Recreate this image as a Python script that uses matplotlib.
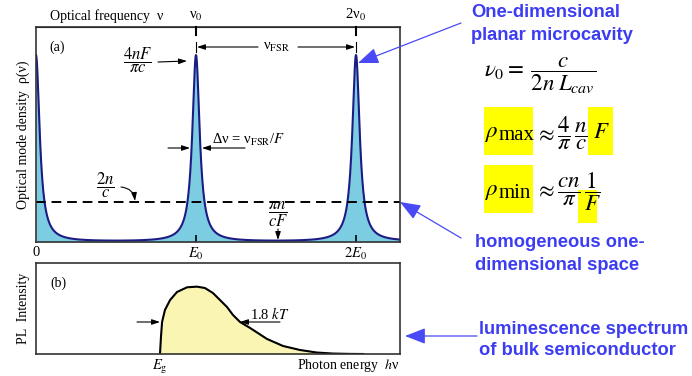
import numpy as np
import matplotlib
matplotlib.use("Agg")
import matplotlib.pyplot as plt
from matplotlib.patches import Rectangle

plt.rcParams['font.family'] = ['Liberation Serif', 'DejaVu Serif']
plt.rcParams['mathtext.fontset'] = 'stix'

# panel (a): mode density of a planar cavity, energy in units of E0
mode_peaks = [0, 1, 2]
mode_labels = ['0', '$E_0$', '$2E_0$']
freq_labels = ['', 'ν$_0$', '2ν$_0$']
finesse = 18.0
peak_density = 1.0
free_space_level = 0.214      # 2n/c
x_max = 2.275

# panel (b): PL spectrum
pl_energy = [0.775, 0.781, 0.788, 0.806, 0.838, 0.881, 0.944, 1.006, 1.056, 1.106,
             1.150, 1.194, 1.231, 1.275, 1.338, 1.444, 1.544, 1.650, 1.756, 1.856,
             1.963, 2.044]
pl_intensity = [0.0, 0.187, 0.352, 0.484, 0.593, 0.681, 0.733, 0.740, 0.725, 0.670,
                0.593, 0.516, 0.429, 0.352, 0.286, 0.165, 0.088, 0.044, 0.016, 0.005,
                0.001, 0.0]
e_gap = 0.775

blue = '#3c3cf2'
W, H = 692, 376
fig = plt.figure(figsize=(W / 100, H / 100), dpi=100)

def box(l, t, r, b):
    return [l / W, 1 - b / H, (r - l) / W, (b - t) / H]

ax_a = fig.add_axes(box(36, 27, 400, 242))
ax_b = fig.add_axes(box(36, 263, 400, 354))

# ---- panel (a)
x = np.linspace(0, x_max, 4000)
rho = peak_density / (1 + (2 * finesse / np.pi) ** 2 * np.sin(np.pi * x) ** 2)
ax_a.fill_between(x, 0, rho, color='#7ccde2', lw=0)
ax_a.plot(x, rho, color='#1c1c85', lw=1.5)
ax_a.axhline(free_space_level, color='black', lw=1.4, dashes=(5, 3))
ax_a.set_xlim(0, x_max)
ax_a.set_ylim(0, 1.15)
ax_a.set_yticks([])
ax_a.set_xticks(mode_peaks)
ax_a.set_xticklabels(mode_labels, fontsize=10.5)
ax_a.tick_params(axis='x', direction='in', length=5, width=1.2, pad=3, top=True)
ax_a.get_xticklines()[0].set_visible(False)
ax_a.get_xticklines()[1].set_visible(False)
top = ax_a.secondary_xaxis('top')
top.set_xticks(mode_peaks)
top.set_xticklabels(freq_labels, fontsize=10.5)
top.tick_params(direction='in', length=0, pad=3)
ax_a.set_ylabel('Optical mode density  ρ(ν)', fontsize=10, labelpad=4)

# ---- panel (b)
ax_b.fill_between(pl_energy, 0, pl_intensity, color='#fbf5b4', lw=0)
ax_b.plot(pl_energy, pl_intensity, color='black', lw=1.5)
ax_b.set_xlim(0, x_max)
ax_b.set_ylim(0, 1)
ax_b.set_yticks([])
ax_b.set_xticks([e_gap])
ax_b.set_xticklabels(['$E_{\\rm g}$'], fontsize=10.5)
ax_b.tick_params(axis='x', length=0, pad=3)
ax_b.set_ylabel('PL  Intensity', fontsize=10, labelpad=4)

for ax in (ax_a, ax_b):
    for s in ax.spines.values():
        s.set_linewidth(1.2)
        s.set_color('#333333')

# ---- overlay in pixel coordinates for annotations
ov = fig.add_axes([0, 0, 1, 1])
ov.set_xlim(0, W)
ov.set_ylim(H, 0)
ov.axis('off')
ov.patch.set_alpha(0)

k = dict(arrowstyle='-|>,head_length=0.6,head_width=0.2', color='black', lw=0.8,
         mutation_scale=8, shrinkA=0, shrinkB=0)

ov.text(50, 16, 'Optical frequency  ν', fontsize=10, va='center')
ov.text(57, 47, '(a)', fontsize=10, ha='center', va='center')
ov.text(58, 283, '(b)', fontsize=10, ha='center', va='center')
ov.text(297, 365, 'Photon energy  $h$ν', fontsize=10, va='center')

# nu_FSR dimension
ov.text(277, 47, 'ν$_{\\rm FSR}$', fontsize=10.5, ha='center', va='center')
ov.annotate('', xy=(197, 47), xytext=(258, 47), arrowprops=k)
ov.annotate('', xy=(355, 47), xytext=(298, 47), arrowprops=k)
for xp in (196, 356):
    ov.plot([xp, xp], [42, 52], color='black', lw=0.8)
    ov.plot([xp, xp], [27, 35], color='black', lw=1.5)

ov.text(138, 60, r'$\dfrac{4nF}{\pi c}$', fontsize=12, ha='center', va='center')
ov.annotate('', xy=(187, 61), xytext=(158, 62), arrowprops=k)

ov.text(212, 140, 'Δν = ν$_{\\rm FSR}$/$F$', fontsize=10.5, va='center')
ov.annotate('', xy=(190, 148), xytext=(168, 148), arrowprops=k)
ov.annotate('', xy=(202, 148), xytext=(245, 148), arrowprops=k)

ov.text(105, 185, r'$\dfrac{2n}{c}$', fontsize=12, ha='center', va='center')
ov.annotate('', xy=(135, 201), xytext=(121, 187),
            arrowprops=dict(k, connectionstyle='arc3,rad=-0.4'))

ov.text(278, 214, r'$\dfrac{\pi n}{cF}$', fontsize=12, ha='center', va='center')
ov.annotate('', xy=(278, 240), xytext=(278, 229), arrowprops=k)

ov.text(250, 314, '1.8 $kT$', fontsize=10.5, va='center')
ov.annotate('', xy=(240, 322), xytext=(280, 322), arrowprops=k)
ov.annotate('', xy=(160, 322), xytext=(137, 322), arrowprops=k)

# ---- right side notes
bk = dict(fontsize=13.2, color=blue, fontweight='bold', family='Liberation Sans',
          va='baseline')
ov.text(471, 17, 'One-dimensional', **bk)
ov.text(471, 40, 'planar microcavity', **bk)
ov.text(475, 247, 'homogeneous one-', **bk)
ov.text(475, 270, 'dimensional space', **bk)
ov.text(479, 334, 'luminescence spectrum', **bk)
ov.text(479, 355, 'of bulk semiconductor', **bk)

ba = dict(arrowstyle='-|>,head_length=0.9,head_width=0.35', color='#4a4af5', lw=0.9,
          mutation_scale=14, shrinkA=0, shrinkB=0)
ov.annotate('', xy=(358, 63), xytext=(461, 23), arrowprops=ba)
ov.annotate('', xy=(400, 202), xytext=(461, 238), arrowprops=ba)
ov.annotate('', xy=(405, 336), xytext=(477, 336), arrowprops=ba)

for l, t, r, b in [(484, 107, 533, 155), (588, 107, 613, 155),
                   (484, 165, 533, 213), (578, 190, 597, 223)]:
    ov.add_patch(Rectangle((l, t), r - l, b - t, color='#ffff00', lw=0, zorder=0))

eq = dict(fontsize=16.5, va='center', color='black')
ov.text(484, 76, r'$\nu_0 = \;\dfrac{c}{2n\;L_{cav}}$', **eq)
ov.text(485, 133, r'$\rho$', **eq)
ov.text(499, 136, 'max', fontsize=15, va='center')
ov.text(535, 133, r'$\approx \dfrac{4}{\pi}\,\dfrac{n}{c}$', **eq)
ov.text(593, 133, r'$F$', **eq)
ov.text(485, 192, r'$\rho$', **eq)
ov.text(499, 194, 'min', fontsize=15, va='center')
ov.text(535, 192, r'$\approx \dfrac{cn}{\pi}\,\dfrac{1}{F}$', **eq)

fig.savefig('out.png', dpi=100)
